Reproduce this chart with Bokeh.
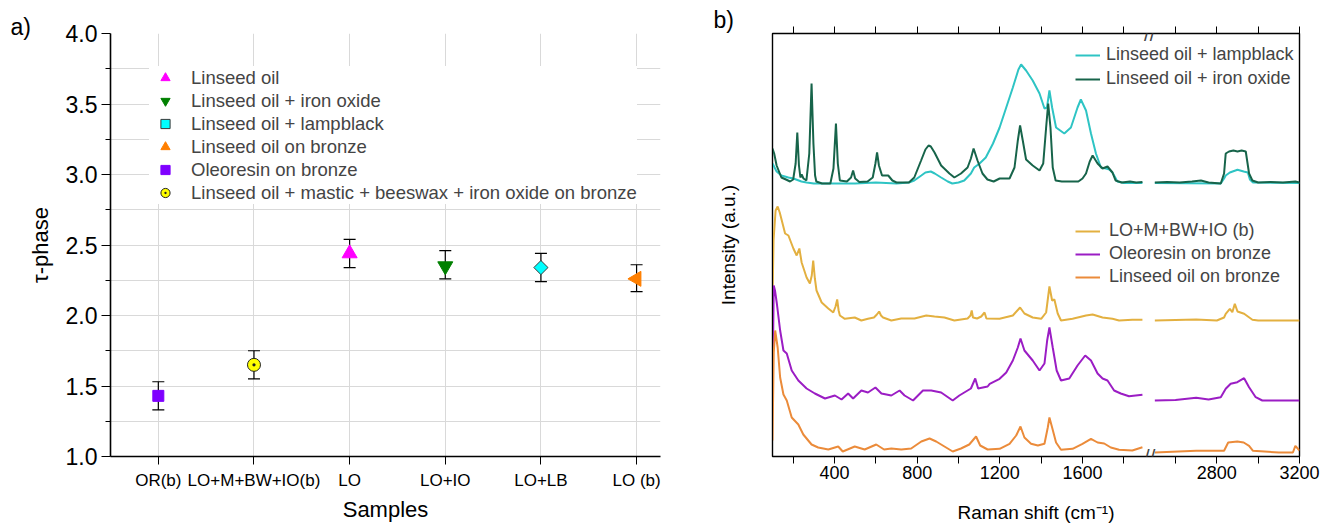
import math
from bokeh.plotting import figure
from bokeh.layouts import row
from bokeh.models import (Range1d, FixedTicker, Whisker, TeeHead, ColumnDataSource,
                          Legend, LegendItem, Label, LinearAxis, CustomLabelingPolicy)
from bokeh.embed import file_html
from bokeh.resources import INLINE

FONT = "Liberation Sans"

# ---------------- panel a data ----------------
samples = ["OR(b)", "LO+M+BW+IO(b)", "LO", "LO+IO", "LO+LB", "LO (b)"]
tau = [1.43, 1.65, 2.44, 2.35, 2.34, 2.26]
tau_low = [1.33, 1.55, 2.34, 2.26, 2.24, 2.17]
tau_high = [1.53, 1.75, 2.54, 2.46, 2.44, 2.36]
legend_order = ["LO", "LO+IO", "LO+LB", "LO (b)", "OR(b)", "LO+M+BW+IO(b)"]
legend_names = ["Linseed oil", "Linseed oil + iron oxide", "Linseed oil + lampblack",
                "Linseed oil on bronze", "Oleoresin on bronze",
                "Linseed oil + mastic + beeswax + iron oxide on bronze"]
y_ticks_a = [1.0, 1.5, 2.0, 2.5, 3.0, 3.5, 4.0]
y_minor_a = [1.25, 1.75, 2.25, 2.75, 3.25, 3.75]

# ---------------- panel b data (Raman spectra, a.u.) ----------------
x_ticks_b = [400, 800, 1200, 1600, 2800, 3200]
x_minor_b = [200, 600, 1000, 1400, 1800, 2600, 3000]
BREAK_END = 1900
RESUME = 2500

lb_wn_lo = [100, 120, 143, 177, 201, 240, 265, 300, 400, 500, 600, 700, 760, 786, 820, 840, 866, 885,
            916, 948, 970, 1000, 1028, 1060, 1076, 1102, 1132, 1167, 1199, 1231, 1263, 1290, 1303, 1327,
            1359, 1392, 1416, 1428, 1440, 1453, 1472, 1512, 1544, 1576, 1592, 1617, 1641, 1665, 1689,
            1713, 1730, 1745, 1769, 1800, 1890]
lb_int_lo = [20, 12, 8, 6, 5, 2, 1, 0, 0, 0, 1, 0, 1, 3, 8, 11, 12, 10,
             6, 2, 0, 1, 3, 10, 16, 20, 26, 40, 56, 76, 96, 114, 119, 113,
             103, 90, 75, 76, 93, 76, 56, 50, 56, 76, 84, 73, 50, 30, 16,
             15, 14, 11, 2, 0.5, 0.5]
lb_wn_hi = [2500, 2819, 2835, 2843, 2863, 2900, 2930, 2950, 2960, 2975, 3200]
lb_int_hi = [0.5, 0, 5, 8, 11, 13.7, 12, 11, 4, 1, 0.5]

io_wn_lo = [100, 108, 120, 143, 165, 185, 200, 212, 220, 228, 235, 241, 250, 264, 278, 289, 298, 306,
            312, 340, 380, 395, 407, 416, 426, 460, 480, 490, 500, 520, 560, 585, 598, 606, 615, 630,
            660, 680, 700, 760, 786, 819, 840, 855, 866, 884, 916, 956, 980, 1012, 1044, 1060, 1073,
            1092, 1116, 1140, 1170, 1199, 1247, 1271, 1287, 1298, 1311, 1327, 1359, 1392, 1410, 1424,
            1434, 1445, 1456, 1470, 1500, 1580, 1600, 1617, 1635, 1649, 1673, 1697, 1721, 1745, 1760,
            1790, 1830, 1860, 1890]
io_int_lo = [35, 30, 18, 6, 4, 2, 4, 20, 51, 18, 6, 9, 5, 3, 30, 100, 40, 8,
             2, 0, 0, 15, 60, 20, 3, 2, 6, 13, 5, 1.5, 2, 6, 20, 31, 18, 8,
             8, 3, 1, 1, 6, 23, 34, 38, 37, 31, 18, 10, 6, 10, 16, 25, 35,
             23, 10, 4, 2, 5, 5, 16, 43, 58, 43, 24, 18, 13, 20, 56,
             80, 56, 16, 3, 2, 2, 5, 10, 22, 28, 20, 15, 17, 11, 3,
             1, 2, 1, 1.5]
io_wn_hi = [2500, 2560, 2620, 2680, 2723, 2760, 2819, 2835, 2843, 2859, 2880, 2900, 2920, 2940, 2956,
            2972, 3000, 3060, 3120, 3180, 3200]
io_int_hi = [1, 1.5, 1, 2, 3, 1, 0, 10, 30, 32, 33, 32, 33, 32, 10,
             3, 1, 1.5, 1, 2, 1]

mb_wn_lo = [100, 105, 115, 125, 135, 145, 161, 177, 201, 217, 230, 241, 265, 281, 290, 297, 305, 313,
            338, 370, 394, 405, 413, 420, 426, 450, 498, 530, 562, 591, 605, 616, 625, 635, 675, 723,
            787, 844, 884, 932, 980, 1044, 1058, 1064, 1070, 1090, 1110, 1126, 1135, 1199, 1263, 1298,
            1319, 1359, 1400, 1424, 1440, 1453, 1464, 1480, 1496, 1552, 1617, 1649, 1697, 1745, 1777,
            1841, 1890]
mb_int_lo = [20, 80, 110, 114, 108, 100, 87, 85, 72, 65, 72, 58, 43, 37, 45, 60, 42, 30,
             18, 12, 8, 14, 21, 10, 5, 1.7, 3, 0, 1.7, 3, 6, 9, 5, 3, 0, 2,
             2, 5, 4, 3, 0, 2, 5, 10, 3, 2, 4, 8, 2, 1.7, 5, 13,
             7, 3, 1.7, 8, 34, 20, 21, 7, 0, 1.7, 5, 6, 3, 1.7, 0,
             0.7, 0.7]
mb_wn_hi = [2500, 2600, 2700, 2800, 2835, 2843, 2863, 2875, 2887, 2900, 2932, 2972, 3000, 3200]
mb_int_hi = [0, 0.5, 1, 0, 3, 6.7, 11.7, 8.3, 16.7, 9, 6.7, 0.7, 0, 0]

or_wn_lo = [100, 103, 106, 112, 121, 137, 153, 169, 193, 225, 265, 305, 354, 402, 434, 466, 490, 530,
            562, 598, 627, 675, 715, 739, 780, 828, 868, 916, 972, 1004, 1060, 1081, 1095, 1141, 1151,
            1199, 1231, 1263, 1287, 1300, 1319, 1359, 1392, 1416, 1429, 1440, 1456, 1475, 1496, 1536,
            1576, 1613, 1641, 1673, 1697, 1721, 1753, 1785, 1825, 1890]
or_int_lo = [0, 60, 115, 110, 97, 70, 50, 47, 30, 20, 12, 7, 2, 5, 1, 7, 2, 10,
             8, 13, 7, 5, 10, 5, 0, 10, 10, 8, 0, 5, 12, 22, 12, 14, 16.7,
             21.7, 28, 40, 53, 62, 50, 40, 30, 37, 60, 73, 53, 30, 20, 22,
             35, 45, 40, 27, 22, 20, 10, 7, 4.3, 5.7]
or_wn_hi = [2500, 2600, 2700, 2760, 2819, 2843, 2867, 2899, 2932, 2956, 2988, 3020, 3200]
or_int_hi = [0, 0.5, 2.7, 1, 3.3, 11.7, 16.7, 18.3, 22.3, 13.3, 3.3, 0, 0]

lob_wn_lo = [100, 106, 113, 125, 137, 153, 169, 193, 225, 249, 289, 321, 370, 418, 440, 498, 546, 602,
             640, 675, 723, 771, 820, 860, 892, 932, 972, 1012, 1052, 1085, 1105, 1141, 1199, 1247,
             1279, 1300, 1319, 1351, 1384, 1416, 1432, 1440, 1453, 1472, 1496, 1552, 1600, 1641, 1673,
             1705, 1737, 1777, 1841, 1890]
lob_int_lo = [12, 100, 122, 105, 75, 58, 52, 35, 28, 18, 8, 5, 3, 6, 1, 6, 3, 8,
              3, 4, 3, 4, 11, 14, 11, 6, 1, 4, 8, 16, 7, 3, 3.7, 8.7,
              17, 26, 15, 8.7, 7, 8.7, 25, 35, 25, 10, 2.7, 3.7, 8.7, 13.7, 10,
              9, 5, 2.7, 2, 5.3]
lob_wn_hi = [2500, 2700, 2835, 2855, 2899, 2930, 2956, 2975, 3100, 3168, 3180, 3200]
lob_int_hi = [0, 1.7, 1.7, 10, 11, 10, 6.7, 1.7, 0, 0, 6.7, 2]

# vertical stacking offsets of the spectra (a.u.)
OFF_TOP = 273
OFF_MB = 136
OFF_OR = 56
OFF_LOB = 4


def shift(w):
    # broken x axis: the 1900-2500 cm-1 region is cut out, leaving a small gap
    return w if w <= BREAK_END else w - (RESUME - BREAK_END - 50)


def spectrum_source(wn_lo, int_lo, wn_hi, int_hi, off):
    xs = [shift(w) for w in wn_lo] + [float("nan")] + [shift(w) for w in wn_hi]
    ys = [v + off for v in int_lo] + [float("nan")] + [v + off for v in int_hi]
    return ColumnDataSource(dict(x=xs, y=ys))


def style_text(ax, tick_size, label_size):
    ax.major_label_text_font = FONT
    ax.major_label_text_font_size = tick_size
    ax.axis_label_text_font = FONT
    ax.axis_label_text_font_size = label_size
    ax.axis_label_text_font_style = "normal"
    ax.axis_line_color = "black"
    ax.major_tick_line_color = "black"
    ax.minor_tick_line_color = "black"
    ax.major_label_text_color = "black"
    ax.axis_label_text_color = "black"


def style_title(p, text, offset, standoff):
    p.title.text = text
    p.title.align = "left"
    p.title.offset = offset
    p.title.standoff = standoff
    p.title.text_font = FONT
    p.title.text_font_size = "23px"
    p.title.text_font_style = "normal"
    p.title.text_color = "black"


# ================= panel a =================
p1 = figure(width=700, height=526, x_range=Range1d(-0.5, 5.25), y_range=Range1d(1.0, 4.0),
            output_backend="svg", toolbar_location=None, title="a)",
            min_border_left=110, min_border_right=40, min_border_top=33, min_border_bottom=69)
p1.outline_line_color = None
p1.background_fill_color = "white"
style_title(p1, "a)", -100, -12)

xt = FixedTicker(ticks=list(range(len(samples))))
yt = FixedTicker(ticks=y_ticks_a, minor_ticks=y_minor_a)
p1.xaxis.ticker = xt
p1.xaxis.major_label_overrides = {i: s for i, s in enumerate(samples)}
p1.yaxis.ticker = yt
p1.yaxis.major_label_overrides = {v: f"{v:.1f}" for v in y_ticks_a}
for ax in p1.xaxis:
    style_text(ax, "17px", "22px")
    ax.axis_label = "Samples"
    ax.axis_line_width = 1.6
    ax.major_tick_out = 8
    ax.major_tick_in = 0
    ax.minor_tick_out = 0
    ax.major_label_standoff = 6
    ax.axis_label_standoff = 4
for ax in p1.yaxis:
    style_text(ax, "23px", "22px")
    ax.axis_label = "τ-phase"
    ax.axis_line_width = 1.6
    ax.major_tick_out = 9
    ax.major_tick_in = 0
    ax.minor_tick_out = 5
    ax.minor_tick_in = 0
    ax.major_label_standoff = 4
    ax.axis_label_standoff = 10
p1.xgrid.ticker = xt
p1.ygrid.ticker = yt
p1.xgrid.grid_line_color = "#d9d9d9"
p1.ygrid.grid_line_color = "#d9d9d9"
p1.ygrid.minor_grid_line_color = "#d9d9d9"

src_err = ColumnDataSource(dict(x=list(range(len(samples))), lo=tau_low, hi=tau_high))
p1.add_layout(Whisker(source=src_err, base="x", lower="lo", upper="hi", dimension="height",
                      line_color="black", line_width=1.2,
                      upper_head=TeeHead(size=12, line_color="black", line_width=1.2),
                      lower_head=TeeHead(size=12, line_color="black", line_width=1.2)))

marker_style = {
    "LO": dict(marker="triangle", size=15, fill_color="#ff00ff", line_color="#ff00ff", angle=0.0),
    "LO+IO": dict(marker="inverted_triangle", size=15, fill_color="#008000", line_color="#008000", angle=0.0),
    "LO+LB": dict(marker="square", size=10, fill_color="#00ffff", line_color="#3a3a3a", angle=math.pi / 4),
    "LO (b)": dict(marker="triangle", size=15, fill_color="#ff7f00", line_color="#ff7f00", angle=math.pi / 2),
    "OR(b)": dict(marker="square", size=11, fill_color="#7f00ff", line_color="#7f00ff", angle=0.0),
    "LO+M+BW+IO(b)": dict(marker="circle_dot", size=13, fill_color="#ffff00", line_color="#222222", angle=0.0),
}
items_a = []
for key, name in zip(legend_order, legend_names):
    i = samples.index(key)
    s = ColumnDataSource(dict(x=[i], y=[tau[i]]))
    st = marker_style[key]
    r = p1.scatter("x", "y", source=s, marker=st["marker"], size=st["size"],
                   fill_color=st["fill_color"], line_color=st["line_color"], angle=st["angle"],
                   line_width=1)
    items_a.append(LegendItem(label=name, renderers=[r]))

leg_a = Legend(items=items_a, location=(39, 252), label_text_font=FONT, label_text_font_size="18.5px",
               label_height=23, glyph_height=23, glyph_width=32, label_standoff=10, spacing=0,
               padding=6, margin=0, background_fill_color="white", background_fill_alpha=1.0,
               border_line_color=None)
p1.add_layout(leg_a)

# ================= panel b =================
p2 = figure(width=620, height=526, x_range=Range1d(100, shift(3200)), y_range=Range1d(0, 423),
            output_backend="svg", toolbar_location=None, title="b)",
            min_border_left=72, min_border_right=21, min_border_top=33, min_border_bottom=70)
p2.outline_line_color = "black"
p2.outline_line_width = 1.4
p2.grid.visible = False
style_title(p2, "b)", -59, -20)

xt_b = FixedTicker(ticks=[shift(v) for v in x_ticks_b], minor_ticks=[shift(v) for v in x_minor_b])
for ax in p2.xaxis:
    ax.ticker = xt_b
    ax.major_label_overrides = {shift(v): str(v) for v in x_ticks_b}
    style_text(ax, "18px", "19px")
    ax.axis_label = "Raman shift (cm⁻¹)"
    ax.major_tick_out = 7
    ax.major_tick_in = 0
    ax.minor_tick_out = 7
    ax.minor_tick_in = 0
    ax.major_label_standoff = 2
    ax.axis_label_standoff = 20
top_ax = LinearAxis(ticker=xt_b, major_tick_out=7, major_tick_in=0, minor_tick_out=7, minor_tick_in=0,
                    axis_line_color="black", major_label_text_font=FONT,
                    major_label_text_font_size="1px", major_label_standoff=0,
                    major_label_policy=CustomLabelingPolicy(code="return []"))
p2.add_layout(top_ax, "above")
for ax in p2.yaxis:
    ax.ticker = FixedTicker(ticks=[])
    style_text(ax, "18px", "19px")
    ax.axis_label = "Intensity (a.u.)"
    ax.major_tick_out = 0
    ax.minor_tick_out = 0
    ax.axis_label_standoff = 34

lw = 2
r_lb = p2.line("x", "y", source=spectrum_source(lb_wn_lo, lb_int_lo, lb_wn_hi, lb_int_hi, OFF_TOP),
               line_color="#2ec4c4", line_width=lw)
r_io = p2.line("x", "y", source=spectrum_source(io_wn_lo, io_int_lo, io_wn_hi, io_int_hi, OFF_TOP),
               line_color="#17644a", line_width=lw)
r_mb = p2.line("x", "y", source=spectrum_source(mb_wn_lo, mb_int_lo, mb_wn_hi, mb_int_hi, OFF_MB),
               line_color="#e3b040", line_width=lw)
r_or = p2.line("x", "y", source=spectrum_source(or_wn_lo, or_int_lo, or_wn_hi, or_int_hi, OFF_OR),
               line_color="#9b1dc4", line_width=lw)
r_lob = p2.line("x", "y", source=spectrum_source(lob_wn_lo, lob_int_lo, lob_wn_hi, lob_int_hi, OFF_LOB),
                line_color="#eb8b3a", line_width=lw)

leg_b1 = Legend(items=[LegendItem(label="Linseed oil + lampblack", renderers=[r_lb]),
                       LegendItem(label="Linseed oil + iron oxide", renderers=[r_io])],
                location=(303, 367), label_text_font=FONT, label_text_font_size="18px",
                label_height=20, glyph_height=20, glyph_width=25, label_standoff=6, spacing=3,
                padding=5, margin=0, background_fill_alpha=0, border_line_color=None)
leg_b2 = Legend(items=[LegendItem(label="LO+M+BW+IO (b)", renderers=[r_mb]),
                       LegendItem(label="Oleoresin on bronze", renderers=[r_or]),
                       LegendItem(label="Linseed oil on bronze", renderers=[r_lob])],
                location=(303, 169), label_text_font=FONT, label_text_font_size="18px",
                label_height=20, glyph_height=20, glyph_width=25, label_standoff=9, spacing=2,
                padding=5, margin=0, background_fill_alpha=0, border_line_color=None)
p2.add_layout(leg_b1)
p2.add_layout(leg_b2)

brk_x = (BREAK_END + shift(RESUME)) / 2
for yb in (0, 423):
    p2.add_layout(Label(x=brk_x, y=yb, text="//", text_font=FONT, text_font_size="20px",
                        text_align="center", text_baseline="middle"))

layout = row(p1, p2)
open("out.html", "w").write(file_html(layout, INLINE))
